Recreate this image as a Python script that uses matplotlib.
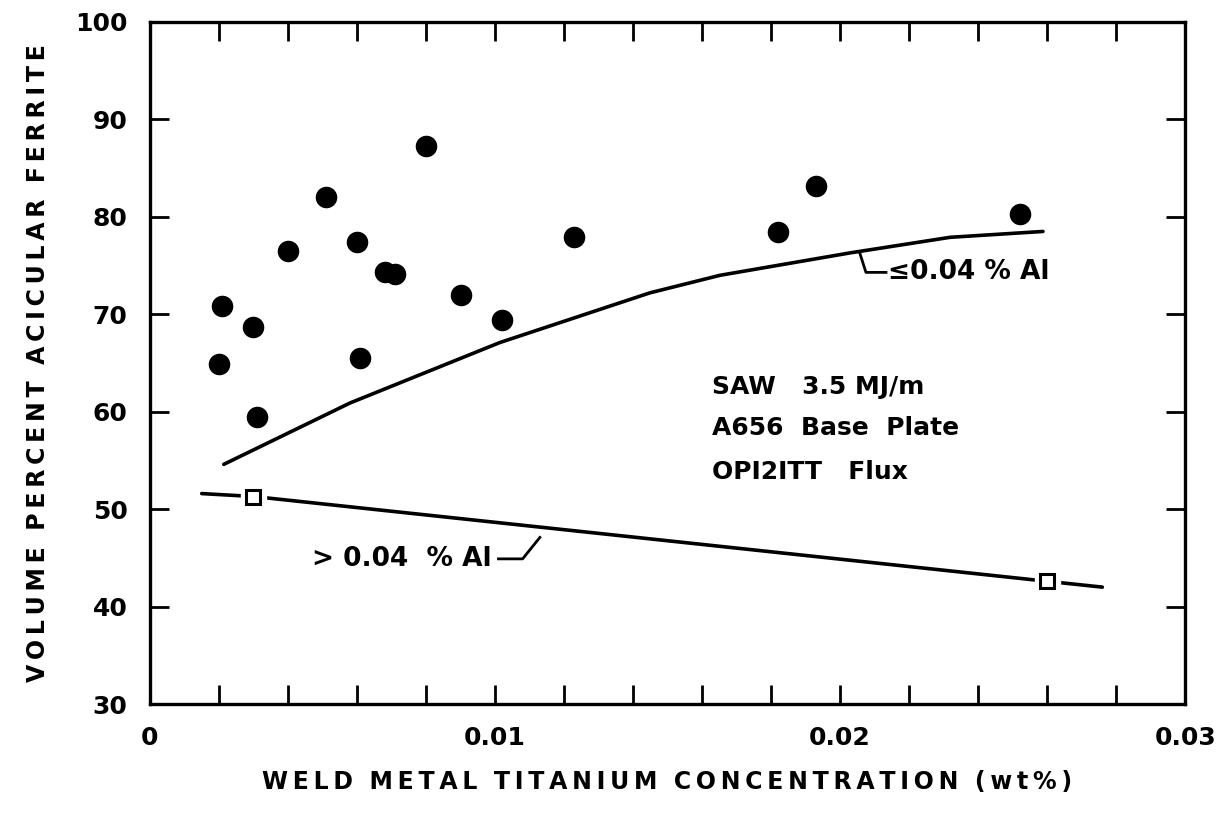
import numpy as np
import matplotlib.pyplot as plt
from matplotlib.ticker import MultipleLocator, FixedLocator

# measured points (filled circles)
ti = [0.0020, 0.0021, 0.0030, 0.0031, 0.0040, 0.0051, 0.0060, 0.0061, 0.0068,
      0.0071, 0.0080, 0.0090, 0.0102, 0.0123, 0.0182, 0.0193, 0.0252]
af = [64.9, 70.9, 68.7, 59.5, 76.5, 82.0, 77.4, 65.5, 74.3,
      74.1, 87.3, 72.0, 69.4, 77.9, 78.4, 83.2, 80.3]

# trend curve for <= 0.04 % Al
low_al_x = [0.00214, 0.0058, 0.01014, 0.01449, 0.01652, 0.02029, 0.02319, 0.02588]
low_al_y = [54.6, 60.9, 67.1, 72.2, 74.0, 76.3, 77.9, 78.5]

# line for > 0.04 % Al, squares are the measured values
high_al_x = [0.0015, 0.0030, 0.0260, 0.0276]
high_al_y = [51.6, 51.3, 42.6, 42.0]
sq_x = [0.0030, 0.0260]
sq_y = [51.3, 42.6]


def spaced(s):
    # wide lettering like the original drawing
    return '  '.join('\u2009'.join(w) for w in s.split(' '))


plt.rcParams['font.family'] = 'DejaVu Sans'
fig = plt.figure(figsize=(12.28, 8.13), dpi=100)
ax = fig.add_axes([0.1221, 0.134, 0.843, 0.839])

ax.plot(low_al_x, low_al_y, color='black', lw=2.6, solid_capstyle='round')
ax.plot(high_al_x, high_al_y, color='black', lw=2.6, solid_capstyle='round')
# white halo so the line stops short of the squares
ax.plot(sq_x, sq_y, 's', ms=18, color='white', mec='white', zorder=3)
ax.plot(sq_x, sq_y, 's', ms=10, mfc='white', mec='black', mew=2.2, zorder=4)
ax.plot(ti, af, 'o', ms=14.5, color='black', zorder=5)

ax.set_xlim(0, 0.03)
ax.set_ylim(30, 100)
ax.xaxis.set_major_locator(FixedLocator([0, 0.01, 0.02, 0.03]))
ax.xaxis.set_minor_locator(MultipleLocator(0.002))
ax.yaxis.set_major_locator(MultipleLocator(10))
ax.set_xticklabels(['0', '0.01', '0.02', '0.03'])
ax.tick_params(which='both', direction='in', top=True, right=True,
               length=14, width=2)
ax.tick_params(axis='x', which='major', pad=16, labelsize=18)
ax.tick_params(axis='y', which='major', pad=16, labelsize=18)
for lab in ax.get_xticklabels() + ax.get_yticklabels():
    lab.set_fontweight('bold')
for s in ax.spines.values():
    s.set_linewidth(2.4)

ax.set_xlabel(spaced('WELD METAL TITANIUM CONCENTRATION (wt%)'),
              fontsize=17, fontweight='bold', labelpad=14)
ax.set_ylabel(spaced('VOLUME PERCENT ACICULAR FERRITE'),
              fontsize=17, fontweight='bold', labelpad=18)

# labels on the curves
ax.plot([0.02057, 0.02075, 0.02133], [76.3, 74.3, 74.3], color='black', lw=2)
ax.text(0.0214, 74.3, '≤0.04 % Al', fontsize=19, fontweight='bold', va='center')
ax.text(0.00470, 44.9, '> 0.04  % Al', fontsize=19, fontweight='bold', va='center')
ax.plot([0.01010, 0.0108, 0.0113], [44.9, 44.9, 47.1], color='black', lw=2)

ax.text(0.0163, 62.5, 'SAW   3.5 MJ/m', fontsize=18, fontweight='bold', va='center')
ax.text(0.0163, 58.3, 'A656  Base  Plate', fontsize=18, fontweight='bold', va='center')
ax.text(0.0163, 53.8, 'OPI2ITT   Flux', fontsize=18, fontweight='bold', va='center')

fig.savefig('out.png', dpi=100)
